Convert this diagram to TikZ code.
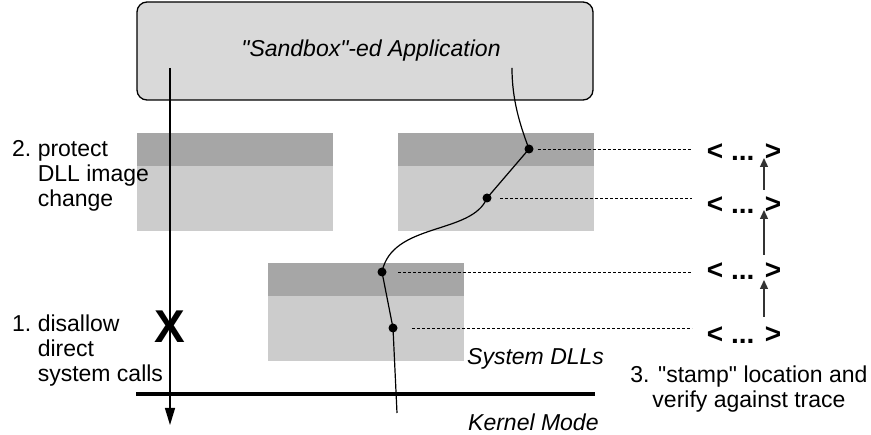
\documentclass[tikz,border=0pt]{standalone}
\usepackage{fontspec}
\setmainfont{Liberation Sans}[Ligatures=TeXOff]
\usetikzlibrary{arrows.meta}
\definecolor{appfill}{HTML}{D9D9D9}
\definecolor{dllfill}{HTML}{CCCCCC}
\definecolor{bandfill}{HTML}{A6A6A6}
\definecolor{arrgray}{HTML}{333333}
\begin{document}
\begin{tikzpicture}[x=1pt,y=-1pt,
  txt/.style={inner sep=0pt,font=\fontsize{23}{25}\selectfont},
  itxt/.style={inner sep=0pt,font=\fontsize{23}{25}\selectfont\itshape},
  appbox/.style={draw,line width=1.3pt,rounded corners=10pt,fill=appfill,
    minimum width=456pt,minimum height=98pt,inner sep=0pt},
  dllbox/.style={fill=dllfill,minimum width=196pt,minimum height=98pt,inner sep=0pt,
    path picture={\fill[bandfill] (path picture bounding box.north west) rectangle ([yshift=-33pt]path picture bounding box.north east);}},
  dotnode/.style={circle,fill=black,inner sep=0pt,minimum size=9pt},
  stampnode/.style={inner sep=0pt,font=\fontsize{28}{30}\selectfont\bfseries},
  trace/.style={line width=1.2pt},
  dashline/.style={line width=0.9pt,dash pattern=on 3pt off 2pt},
  uparr/.style={line width=1.3pt,draw=arrgray,-{Triangle[length=9pt,width=8pt]}},
  downarr/.style={line width=1.2pt,-{Triangle[length=17pt,width=10pt]}}
]
\useasboundingbox (0,0) rectangle (871,435);
\fill[white] (0,0) rectangle (871,435);

% application box
\node[appbox] (app) at (365,51) {};
\node[itxt,anchor=base] (apptext) at (371,57) {"Sandbox"-ed Application};

% DLL boxes
\node[dllbox] (dllL) at (235,182) {};
\node[dllbox] (dllR) at (496,182) {};
\node[dllbox] (dllS) at (366,312.5) {};

% kernel line
\coordinate (k1) at (136,394);
\coordinate (k2) at (595,394);
\draw[line width=4pt] (k1) -- (k2);

% direct system call (blocked)
\node[inner sep=0pt,font=\fontsize{46}{48}\selectfont\bfseries] (xmark) at (170,326.5) {X};
\coordinate (v0) at (170,68);
\coordinate (v1) at (170,425);
\draw[downarr] (v0) -- (v1);

% trace through DLLs
\coordinate (t0) at (512,68);
\node[dotnode] (d1) at (529,149) {};
\node[dotnode] (d2) at (487,198) {};
\node[dotnode] (d3) at (382,272) {};
\node[dotnode] (d4) at (393,328) {};
\coordinate (t1) at (397,413);
\draw[trace] (t0) .. controls (512,100) and (520,125) .. (d1.center)
  -- (d2.center) .. controls (472,235) and (392,222) .. (d3.center)
  -- (d4.center) -- (t1);

% stamps
\node[stampnode,anchor=base] (s1) at (744,161) {< ... >};
\node[stampnode,anchor=base] (s2) at (744,214) {< ... >};
\node[stampnode,anchor=base] (s3) at (744,280) {< ... >};
\node[stampnode,anchor=base] (s4) at (744,344) {< ... >};

% dashed leaders
\coordinate (e1) at (692,149);
\coordinate (e2) at (692,198);
\coordinate (e3) at (692,272);
\coordinate (e4) at (692,328);
\draw[dashline] ([xshift=4pt]d1.east) -- (e1);
\draw[dashline] ([xshift=13pt]d2.center) -- (e2);
\draw[dashline] ([xshift=16pt]d3.center) -- (e3);
\draw[dashline] ([xshift=19pt]d4.center) -- (e4);

% verification arrows
\draw[uparr] ([xshift=20pt,yshift=24pt]s2.base) -- ([xshift=20pt,yshift=3pt]s1.base);
\draw[uparr] ([xshift=20pt,yshift=25pt]s3.base) -- ([xshift=20pt,yshift=4pt]s2.base);
\draw[uparr] ([xshift=20pt,yshift=27pt]s4.base) -- ([xshift=20pt,yshift=0pt]s3.base);

% labels
\node[txt,anchor=base west] (lab2) at (12,157)
  {2.\ \begin{tabular}[t]{@{}l@{}}protect\\DLL image\\change\end{tabular}};
\node[txt,anchor=base west] (lab1) at (12,332)
  {1.\ \begin{tabular}[t]{@{}l@{}}disallow\\direct\\system calls\end{tabular}};
\node[txt,anchor=base] (lab3) at (749,383)
  {\begin{tabular}[t]{@{}c@{}}3. "stamp" location and\\verify against trace\end{tabular}};
\node[itxt,anchor=base west] (sysdll) at (467,365) {System DLLs};
\node[itxt,anchor=base west] (kmode) at (468,431) {Kernel Mode};
\end{tikzpicture}
\end{document}
